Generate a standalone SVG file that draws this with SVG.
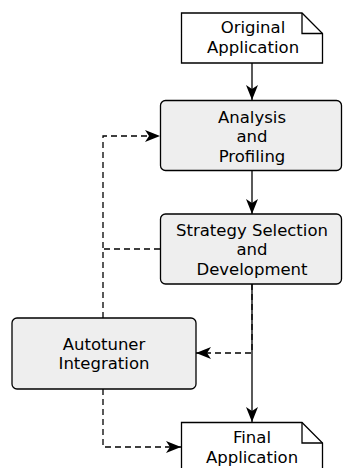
<svg xmlns="http://www.w3.org/2000/svg" width="343" height="468" viewBox="0 0 343 468">
<defs>
<style>
.box{fill:#eeeeee;stroke:#000;stroke-width:1.3}
.note{fill:#fff;stroke:#000;stroke-width:1.3}
.t{font-family:"DejaVu Sans",sans-serif;font-size:16.5px;text-anchor:middle;fill:#000}
.c{fill:none;stroke:#000;stroke-width:1.3}
.d{stroke-dasharray:6,4}
</style>
<marker id="ah" viewBox="0 0 15 12" refX="15" refY="6" markerWidth="15" markerHeight="12" markerUnits="userSpaceOnUse" orient="auto">
<path d="M0,0 L15,6 L0,12 L4,6 Z" fill="#000"/>
</marker>
</defs>
<g id="connectors">
<line class="c" x1="252" y1="63" x2="252" y2="100" marker-end="url(#ah)"/>
<line class="c" x1="252" y1="171" x2="252" y2="214" marker-end="url(#ah)"/>
<line class="c" x1="252" y1="284" x2="252" y2="422" marker-end="url(#ah)"/>
<polyline class="c d" points="160,249 103,249"/>
<polyline class="c d" points="103,318 103,136 160,136" marker-end="url(#ah)"/>
<polyline class="c d" points="252,284 252,353 196,353" marker-end="url(#ah)"/>
<polyline class="c d" points="103,389 103,447 181,447" marker-end="url(#ah)"/>
</g>
<g id="original">
<path class="note" d="M181.5,13 H302 L322.5,33.5 V63 H181.5 Z"/>
<path class="c" d="M302,13 V33.5 H322.5"/>
<text class="t" x="253" y="32.5">Original</text>
<text class="t" x="253" y="52.5">Application</text>
</g>
<g id="analysis">
<rect class="box" x="160.5" y="100.5" width="181" height="70" rx="5"/>
<text class="t" x="252" y="122.5">Analysis</text>
<text class="t" x="252" y="142">and</text>
<text class="t" x="252" y="161.5">Profiling</text>
</g>
<g id="strategy">
<rect class="box" x="160.5" y="214" width="181" height="70" rx="5"/>
<text class="t" x="252" y="236">Strategy Selection</text>
<text class="t" x="252" y="255">and</text>
<text class="t" x="252" y="275">Development</text>
</g>
<g id="autotuner">
<rect class="box" x="12" y="318" width="184" height="71" rx="5"/>
<text class="t" x="104" y="350">Autotuner</text>
<text class="t" x="104" y="369">Integration</text>
</g>
<g id="final">
<path class="note" d="M181.5,422.5 H302 L322.5,443 V470 H181.5 Z"/>
<path class="c" d="M302,422.5 V443 H322.5"/>
<text class="t" x="252" y="443">Final</text>
<text class="t" x="252" y="463">Application</text>
</g>
</svg>
